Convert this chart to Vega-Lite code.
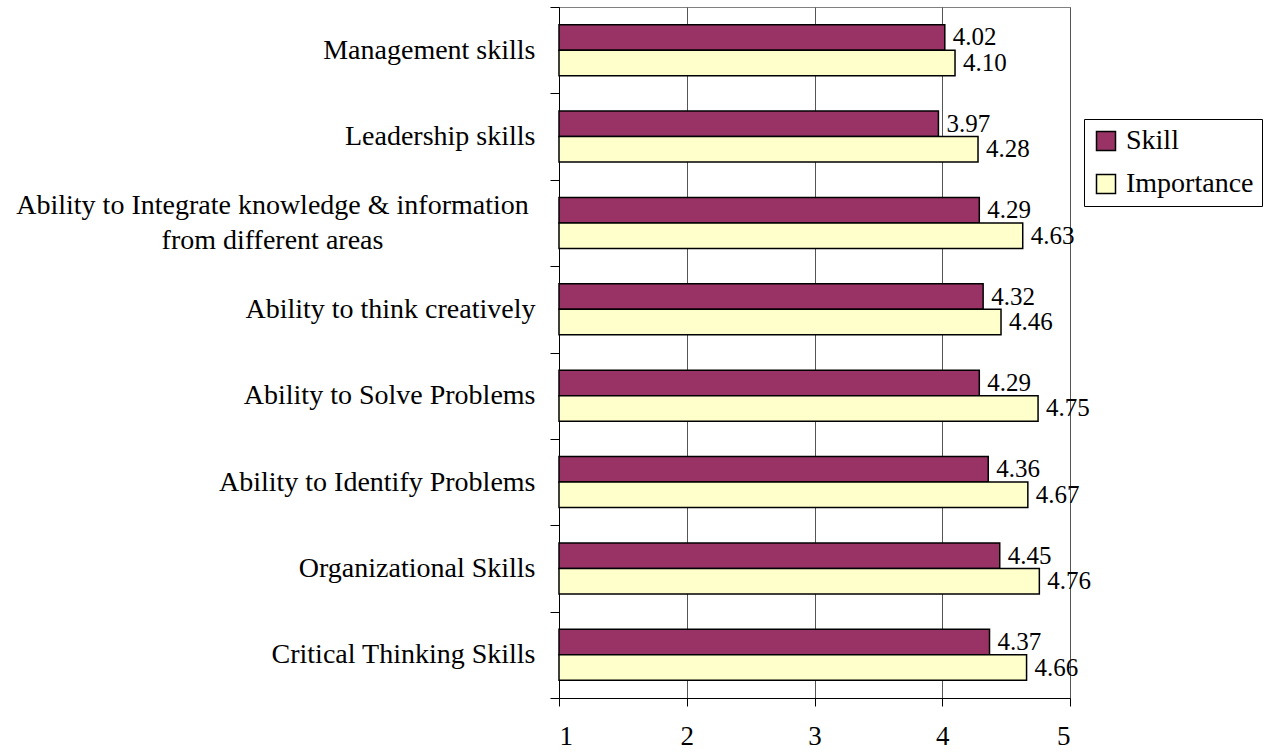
{
  "$schema": "https://vega.github.io/schema/vega-lite/v6.json",
  "width": 511,
  "height": 691,
  "autosize": {"type": "none"},
  "padding": {"left": 559, "top": 7, "right": 197, "bottom": 57},
  "background": "white",
  "config": {"font": "Liberation Serif", "view": {"stroke": "#808080", "strokeWidth": 1}},
  "data": {"values": [
    {"category": "Management skills", "series": "Skill", "value": 4.02},
    {"category": "Management skills", "series": "Importance", "value": 4.10},
    {"category": "Leadership skills", "series": "Skill", "value": 3.97},
    {"category": "Leadership skills", "series": "Importance", "value": 4.28},
    {"category": "Ability to Integrate knowledge & information from different areas", "series": "Skill", "value": 4.29},
    {"category": "Ability to Integrate knowledge & information from different areas", "series": "Importance", "value": 4.63},
    {"category": "Ability to think creatively", "series": "Skill", "value": 4.32},
    {"category": "Ability to think creatively", "series": "Importance", "value": 4.46},
    {"category": "Ability to Solve Problems", "series": "Skill", "value": 4.29},
    {"category": "Ability to Solve Problems", "series": "Importance", "value": 4.75},
    {"category": "Ability to Identify Problems", "series": "Skill", "value": 4.36},
    {"category": "Ability to Identify Problems", "series": "Importance", "value": 4.67},
    {"category": "Organizational Skills", "series": "Skill", "value": 4.45},
    {"category": "Organizational Skills", "series": "Importance", "value": 4.76},
    {"category": "Critical Thinking Skills", "series": "Skill", "value": 4.37},
    {"category": "Critical Thinking Skills", "series": "Importance", "value": 4.66}
  ]},
  "encoding": {
    "y": {
      "field": "category",
      "type": "nominal",
      "sort": ["Management skills", "Leadership skills", "Ability to Integrate knowledge & information from different areas", "Ability to think creatively", "Ability to Solve Problems", "Ability to Identify Problems", "Organizational Skills", "Critical Thinking Skills"],
      "scale": {"paddingInner": 0, "paddingOuter": 0},
      "axis": {
        "title": null,
        "tickBand": "extent",
        "tickSize": 9,
        "tickColor": "black",
        "domainColor": "black",
        "labelFont": "Liberation Serif",
        "labelFontSize": 28,
        "labelColor": "black",
        "labelLimit": 800,
        "labelLineHeight": 35,
        "labelExpr": "datum.value == 'Ability to Integrate knowledge & information from different areas' ? ['Ability to Integrate knowledge & information', 'from different areas'] : datum.value",
        "labelAlign": {"condition": {"test": "datum.value == 'Ability to Integrate knowledge & information from different areas'", "value": "center"}, "value": "right"},
        "labelPadding": {"condition": {"test": "datum.value == 'Ability to Integrate knowledge & information from different areas'", "value": 278}, "value": 15},
        "labelOffset": {"condition": {"test": "datum.value == 'Ability to Integrate knowledge & information from different areas'", "value": -17}, "value": 0},
        "grid": false
      }
    },
    "yOffset": {
      "field": "series",
      "type": "nominal",
      "sort": ["Skill", "Importance"],
      "scale": {"paddingInner": 0, "paddingOuter": 0.69}
    },
    "x": {
      "field": "value",
      "type": "quantitative",
      "scale": {"domain": [1, 5], "nice": false, "zero": false},
      "axis": {
        "title": null,
        "values": [1, 2, 3, 4, 5],
        "format": "d",
        "grid": true,
        "gridColor": "#555555",
        "domainColor": "black",
        "tickColor": "black",
        "tickSize": 8,
        "labelFont": "Liberation Serif",
        "labelFontSize": 27,
        "labelColor": "black",
        "labelPadding": 17
      }
    }
  },
  "layer": [
    {
      "mark": {"type": "bar", "stroke": "black", "strokeWidth": 1.5},
      "encoding": {
        "x2": {"datum": 1},
        "color": {
          "field": "series",
          "type": "nominal",
          "sort": ["Skill", "Importance"],
          "scale": {"domain": ["Skill", "Importance"], "range": ["#993366", "#FFFFCC"]},
          "legend": {
            "title": null,
            "orient": "none",
            "legendX": 525,
            "legendY": 112,
            "symbolType": "square",
            "symbolSize": 361,
            "symbolStrokeColor": "black",
            "symbolStrokeWidth": 1.5,
            "symbolOpacity": 1,
            "labelFont": "Liberation Serif",
            "labelFontSize": 28,
            "labelColor": "black",
            "labelOffset": 6,
            "strokeColor": "black",
            "fillColor": "white",
            "padding": 8,
            "rowPadding": 15
          }
        }
      }
    },
    {
      "mark": {"type": "text", "align": "left", "dx": 8, "baseline": "middle", "fontSize": 25, "color": "black", "font": "Liberation Serif"},
      "encoding": {
        "text": {"field": "value", "type": "quantitative", "format": ".2f"}
      }
    }
  ]
}
